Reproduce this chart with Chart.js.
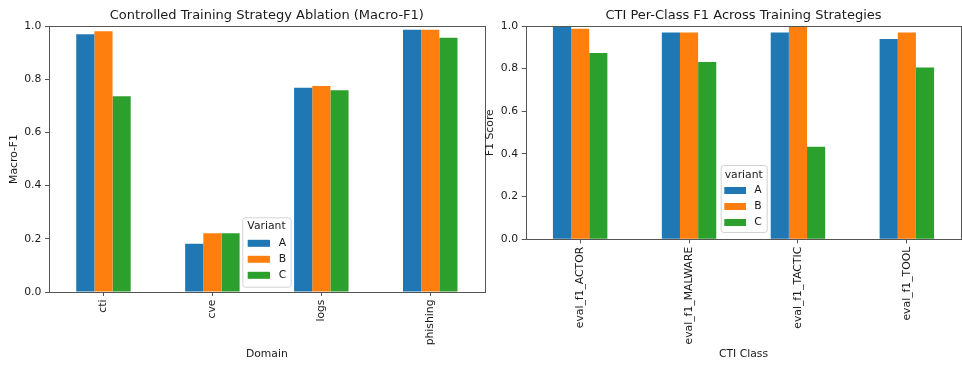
<!DOCTYPE html>
<html>
<head>
<meta charset="utf-8">
<script src="https://cdn.jsdelivr.net/npm/chart.js@4.4.1/dist/chart.umd.min.js"></script>
<style>
  html, body { margin: 0; padding: 0; background: #fff; }
  body { width: 962px; height: 365px; position: relative; overflow: hidden; }
  canvas { position: absolute; top: 0; }
</style>
</head>
<body>
<canvas id="domainChart" width="488" height="365" style="left:0px"></canvas>
<canvas id="classChart" width="484" height="365" style="left:478px"></canvas>
<script>
// left plot: macro-F1 per domain
var domains = ['cti', 'cve', 'logs', 'phishing'];
var domainA = [0.969, 0.181, 0.768, 0.986];
var domainB = [0.980, 0.221, 0.774, 0.986];
var domainC = [0.736, 0.221, 0.758, 0.956];

// right plot: CTI per-class F1
var ctiClasses = ['eval_f1_ACTOR', 'eval_f1_MALWARE', 'eval_f1_TACTIC', 'eval_f1_TOOL'];
var classA = [1.000, 0.970, 0.969, 0.939];
var classB = [0.987, 0.970, 1.000, 0.969];
var classC = [0.873, 0.831, 0.434, 0.806];

var variants = ['A', 'B', 'C'];
var yTicks = [0, 0.2, 0.4, 0.6, 0.8, 1.0];

var colors = ['#1f77b4', '#ff7f0e', '#2ca02c'];
var textColor = '#1a1a1a';
var spineColor = '#555555';
var fontFamily = '"DejaVu Sans", sans-serif';
var smallSize = 10.8;

Chart.defaults.font.family = fontFamily;
Chart.defaults.font.size = smallSize;
Chart.defaults.color = textColor;

// matplotlib draws a box on all four sides
var framePlugin = {
    id: 'frame',
    afterDatasetsDraw: function(chart){
        var a = chart.chartArea;
        var ctx = chart.ctx;
        var l = Math.round(a.left), t = Math.round(a.top);
        var r = Math.round(a.right), b = Math.round(a.bottom);
        ctx.save();
        ctx.strokeStyle = spineColor;
        ctx.lineWidth = 1;
        ctx.strokeRect(l + 0.5, t + 0.5, r - l, b - t);
        ctx.restore();
    }
};

// legend box placed inside the axes, like loc="best"
var boxLegend = {
    id: 'boxLegend',
    afterDraw: function(chart, args, opts){
        var ctx = chart.ctx;
        ctx.save();
        ctx.beginPath();
        ctx.roundRect(opts.x + 0.5, opts.y + 0.5, opts.w, opts.h, 2.5);
        ctx.fillStyle = 'rgba(255,255,255,0.8)';
        ctx.fill();
        ctx.strokeStyle = '#d3d3d3';
        ctx.lineWidth = 1;
        ctx.stroke();

        ctx.font = smallSize + 'px ' + fontFamily;
        ctx.textBaseline = 'middle';
        ctx.fillStyle = textColor;
        ctx.textAlign = 'center';
        ctx.fillText(opts.title, opts.x + opts.w / 2, opts.y + opts.titleDy);

        chart.data.datasets.forEach(function(ds, i){
            var ry = opts.y + opts.rowDy + i * 16;
            ctx.fillStyle = ds.backgroundColor;
            ctx.fillRect(opts.x + opts.handleDx, ry - 3.5, opts.handleW, 7);
            ctx.fillStyle = textColor;
            ctx.textAlign = 'left';
            ctx.fillText(ds.label, opts.x + opts.labelDx, ry);
        });
        ctx.restore();
    }
};

function makeDatasets(series){
    var out = [];
    for (var i = 0; i < series.length; i++) {
        out.push({
            label: variants[i],
            data: series[i],
            backgroundColor: colors[i],
            borderWidth: 0,
            categoryPercentage: 0.5,
            barPercentage: 1.0
        });
    }
    return out;
}

function makeChart(canvasId, labels, series, cfg){
    return new Chart(document.getElementById(canvasId), {
        type: 'bar',
        data: {
            labels: labels,
            datasets: makeDatasets(series)
        },
        plugins: [framePlugin, boxLegend],
        options: {
            responsive: false,
            animation: false,
            layout: { padding: { left: 0, right: cfg.padRight, top: 0, bottom: 0 } },
            plugins: {
                legend: { display: false },
                tooltip: { enabled: false },
                title: {
                    display: true,
                    text: cfg.title,
                    fullSize: false,
                    color: textColor,
                    font: { size: 13, weight: 'normal', family: fontFamily },
                    padding: { top: 7.7, bottom: 2.7 }
                },
                boxLegend: cfg.legend
            },
            scales: {
                x: {
                    afterFit: function(scale){ scale.height = cfg.xHeight; },
                    border: { display: false },
                    grid: {
                        offset: false,
                        drawOnChartArea: false,
                        drawTicks: true,
                        tickLength: 4,
                        tickColor: spineColor
                    },
                    ticks: {
                        minRotation: 90,
                        maxRotation: 90,
                        autoSkip: false,
                        padding: 3.5,
                        color: textColor
                    },
                    title: {
                        display: true,
                        text: cfg.xTitle,
                        color: textColor,
                        padding: { top: 0, bottom: 4.0 }
                    }
                },
                y: {
                    min: 0,
                    max: 1,
                    afterFit: function(scale){ scale.width = cfg.yWidth; },
                    afterBuildTicks: function(scale){
                        scale.ticks = yTicks.map(function(v){ return { value: v }; });
                    },
                    border: { display: false },
                    grid: {
                        drawOnChartArea: false,
                        drawTicks: true,
                        tickLength: 4,
                        tickColor: spineColor
                    },
                    ticks: {
                        padding: 3.7,
                        color: textColor,
                        callback: function(v){ return Number(v).toFixed(1); }
                    },
                    title: {
                        display: true,
                        text: cfg.yTitle,
                        color: textColor,
                        padding: { top: cfg.yTitlePad, bottom: 0 }
                    }
                }
            }
        }
    });
}

makeChart('domainChart', domains, [domainA, domainB, domainC], {
    title: 'Controlled Training Strategy Ablation (Macro-F1)',
    xTitle: 'Domain',
    yTitle: 'Macro-F1',
    padRight: 3.3,
    xHeight: 73,
    yWidth: 49,
    yTitlePad: 7.7,
    legend: { title: 'Variant', x: 242.3, y: 217.3, w: 48.4, h: 69.4,
              titleDy: 8.9, rowDy: 26, handleDx: 5.4, handleW: 22.3, labelDx: 36.4 }
});

makeChart('classChart', ctiClasses, [classA, classB, classC], {
    title: 'CTI Per-Class F1 Across Training Strategies',
    xTitle: 'CTI Class',
    yTitle: 'F1 Score',
    padRight: 0.7,
    xHeight: 125.7,
    yWidth: 47.7,
    yTitlePad: 5.5,
    legend: { title: 'variant', x: 242.7, y: 165, w: 46, h: 67,
              titleDy: 9.8, rowDy: 25.5, handleDx: 3.6, handleW: 21.7, labelDx: 33.6 }
});
</script>
</body>
</html>
